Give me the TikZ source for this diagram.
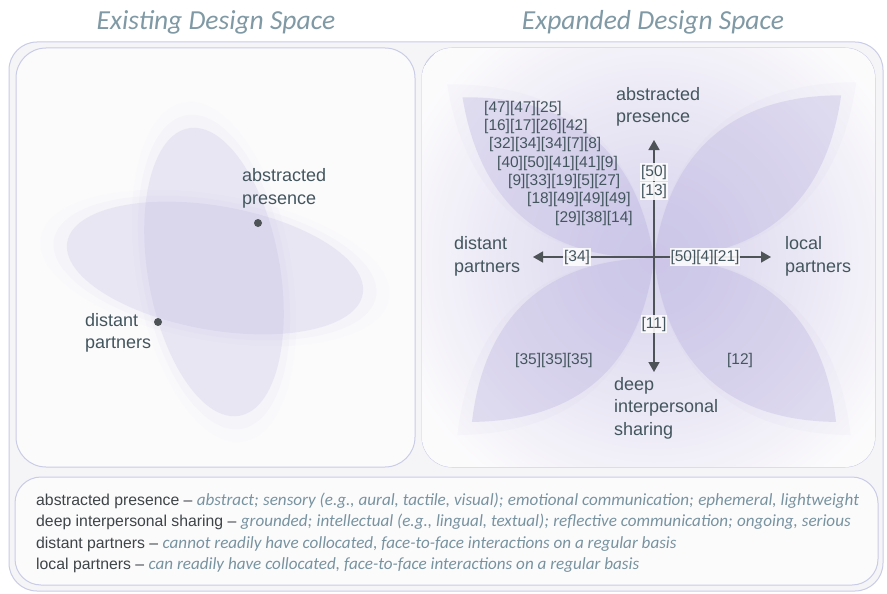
\documentclass[tikz,border=0pt]{standalone}
\usepackage{fontspec}
\setmainfont{Liberation Sans}
\newfontfamily\gill{Carlito}
\usetikzlibrary{arrows.meta}
\definecolor{lav}{HTML}{B4ABDD}
\definecolor{washc}{HTML}{D9D5EE}
\definecolor{txt}{HTML}{43565E}
\definecolor{ttl}{HTML}{7F99A5}
\definecolor{desc}{HTML}{7893A0}
\definecolor{term}{HTML}{3E4447}
\definecolor{frame}{HTML}{C9CCE6}
\definecolor{axis}{HTML}{4E5357}
\definecolor{bg}{HTML}{F5F5F7}
\definecolor{panel}{HTML}{FCFBFC}
\pgfdeclareradialshading{wash}{\pgfpoint{0bp}{0bp}}{color(0bp)=(washc); color(5bp)=(washc!85!panel); color(14bp)=(washc!45!panel); color(23bp)=(panel); color(25bp)=(panel)}
\tikzset{
  boxstyle/.style={draw=frame, line width=1pt, rounded corners=28pt},
  lbl/.style={text=txt, font=\fontsize{18}{22.5}\selectfont, align=left, inner sep=0pt, anchor=west},
  cite/.style={text=txt, font=\fontsize{15.5}{18}\selectfont, inner sep=0pt},
  axlbl/.style={cite, fill=panel, fill opacity=0.9, text opacity=1, inner xsep=1pt, inner ysep=1.5pt},
  axisline/.style={draw=axis, line width=1.6pt, -{Triangle[length=10pt, width=11pt]}},
  ttlstyle/.style={text=ttl, font=\gill\itshape\fontsize{27.5}{30}\selectfont, anchor=base, inner sep=0pt},
  legend/.style={text=term, font=\fontsize{15.8}{19}\selectfont, anchor=base west, inner sep=0pt},
  petal/.style={fill=lav, fill opacity=#1},
  soft/.style={fill=lav, fill opacity=#1},
  dotstyle/.style={fill=axis, draw=none}
}
\newcommand{\dscr}[1]{{\gill\itshape\color{desc}\fontsize{17.1}{19}\selectfont #1}}
\newcommand{\gap}{\ \hspace{0.6pt}}
\begin{document}
\begin{tikzpicture}[x=1pt,y=-1pt]
\useasboundingbox (0,0) rectangle (887,594);
\fill[white] (0,0) rectangle (887,594);
% titles
\node[ttlstyle] (t1) at (216,30) {Existing Design Space};
\node[ttlstyle] (t2) at (653,30) {Expanded Design Space};
% frames
\draw[boxstyle, fill=bg] (9,42) rectangle (883,591);
\draw[boxstyle, fill=panel, rounded corners=30pt] (16,48) rectangle (415,467);
\draw[boxstyle, fill=panel, rounded corners=30pt] (422,48) rectangle (875,467);
\draw[boxstyle, fill=panel, rounded corners=26pt] (15,477) rectangle (878,585);
% left panel petals
\begin{scope}
\clip[rounded corners=30pt] (16,48) rectangle (415,467);
\foreach \s/\o in {1.18/0.03,1.09/0.05,1.0/0.18} {
  \fill[soft=\o, rotate around={10:(214,272)}] (214,272) ellipse [x radius=66*\s, y radius=146*\s];
  \fill[soft=\o, rotate around={-10:(215,268)}] (215,268) ellipse [x radius=150*\s, y radius=62*\s];
}
\end{scope}
% right panel
\begin{scope}
\clip[rounded corners=30pt] (422,48) rectangle (875,467);
\shade[shading=wash] (654,258) circle (300);
\foreach \a/\l in {41/248,140/250,222/245,318/245} {
  \begin{scope}[shift={(654,258)}, rotate=\a]
    \foreach \s/\o in {1.08/0.05,1.0/0.3} {
    \fill[petal=\o] (0,0) .. controls (0.33*\l*\s,71*\s) and (0.67*\l*\s,71*\s) .. (\l*\s,0)
                 .. controls (0.67*\l*\s,-71*\s) and (0.33*\l*\s,-71*\s) .. (0,0);
    }
  \end{scope}
}
\end{scope}
% left panel labels and dots
\node[lbl] (lap) at (242,188.5) {abstracted\\presence};
\node[lbl] (ldp) at (85,333) {distant\\partners};
\fill[dotstyle] (258,223) circle (4) coordinate (dap);
\fill[dotstyle] (158,322) circle (4) coordinate (ddp);
% axes
\coordinate (c) at (654,258);
\coordinate (tipN) at (654,140);
\coordinate (tipS) at (654,372);
\coordinate (tipW) at (533,257);
\coordinate (tipE) at (771,257);
\draw[axisline] (c) -- (tipN);
\draw[axisline] (c) -- (tipS);
\draw[axisline] (654,257) -- (tipW);
\draw[axisline] (654,257) -- (tipE);
\node[axlbl] (a34) at (577,257) {[34]};
\node[axlbl] (a50421) at (705,257) {[50][4][21]};
\node[axlbl] (a50) at (654,172) {[50]};
\node[axlbl] (a13) at (654,191) {[13]};
\node[axlbl] (a11) at (654,324) {[11]};
% right panel labels
\node[lbl] (rap) at (616,107) {abstracted\\presence};
\node[lbl] (rdp) at (454,256.5) {distant\\partners};
\node[lbl] (rlp) at (785,256.5) {local\\partners};
\node[lbl] (rds) at (614,408) {deep\\interpersonal\\sharing};
% citation block
\node[cite, anchor=west] (c1) at (484,108) {[47][47][25]};
\node[cite, anchor=west] (c2) at (484,126.3) {[16][17][26][42]};
\node[cite, anchor=west] (c3) at (489,144.7) {[32][34][34][7][8]};
\node[cite, anchor=west] (c4) at (497,163) {[40][50][41][41][9]};
\node[cite, anchor=west] (c5) at (508,181.3) {[9][33][19][5][27]};
\node[cite, anchor=west] (c6) at (527,199.7) {[18][49][49][49]};
\node[cite, anchor=west] (c7) at (555,218) {[29][38][14]};
\node[cite] (c35) at (554,360) {[35][35][35]};
\node[cite] (c12) at (740,360) {[12]};
% legend
\node[legend] (g1) at (36,505) {abstracted presence -- \dscr{abstract;\gap sensory (e.g., aural, tactile, visual);\gap emotional communication;\gap ephemeral, lightweight}};
\node[legend] (g2) at (36,526.5) {deep interpersonal sharing -- \dscr{grounded;\gap intellectual (e.g., lingual, textual);\gap reflective communication;\gap ongoing, serious}};
\node[legend] (g3) at (36,548) {distant partners -- \dscr{cannot readily have collocated, face-to-face interactions on a regular basis}};
\node[legend] (g4) at (36,569) {local partners -- \dscr{can readily have collocated, face-to-face interactions on a regular basis}};
\end{tikzpicture}
\end{document}
